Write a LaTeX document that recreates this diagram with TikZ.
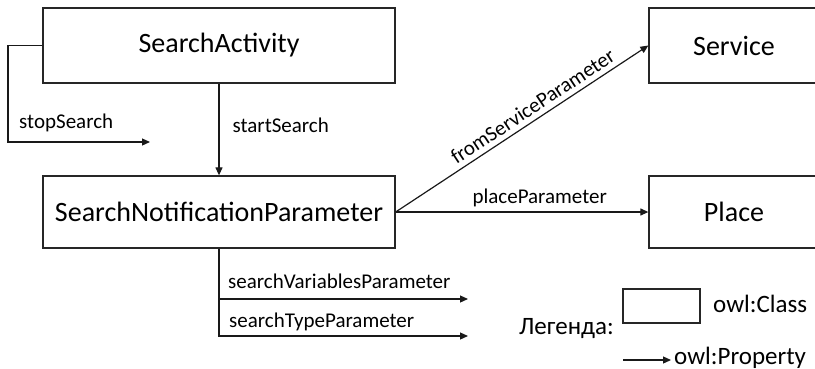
\documentclass[tikz,border=0pt]{standalone}
\usepackage{fontspec}
\setmainfont{Carlito}
\usetikzlibrary{arrows.meta}
\begin{document}
\begin{tikzpicture}[x=1pt,y=-1pt,
  cls/.style={draw=black!85, line width=1.3pt, rectangle, inner sep=0pt, font=\fontsize{28}{30}\selectfont},
  prop/.style={draw=black!90, line width=1.2pt, -{Triangle[length=8pt,width=7pt]}},
  lbl/.style={inner sep=0pt, font=\fontsize{21}{23}\selectfont},
  leglbl/.style={inner sep=0pt, font=\fontsize{25}{27}\selectfont},
  ]
  \useasboundingbox (0,0) rectangle (815,368);

  % classes
  \node[cls, minimum width=352pt, minimum height=75pt] (sa)  at (219,45.5) {SearchActivity};
  \node[cls, minimum width=352pt, minimum height=72pt] (snp) at (219,212) {SearchNotificationParameter};
  \node[cls, minimum width=170pt, minimum height=75pt] (svc) at (734,45.5) {Service};
  \node[cls, minimum width=170pt, minimum height=72pt] (plc) at (734,212) {Place};

  % properties
  \draw[prop] (sa) -- node[lbl, pos=0.45, right=13pt] {startSearch} (snp);

  \coordinate (stopcorner) at (8,142);
  \coordinate (stopend) at (150,142);
  \draw[prop] (sa.west) -| (stopcorner) -- node[lbl, pos=0.41, above=10pt] {stopSearch} (stopend);

  \draw[prop] (snp.east) -- node[lbl, pos=0.57, sloped, above=5pt] {fromServiceParameter} (svc.west);
  \draw[prop] (snp.east) -- node[lbl, pos=0.57, above=5pt] {placeParameter} (plc.west);

  \coordinate (varend) at (468,299);
  \coordinate (typeend) at (468,336);
  \draw[prop] (snp.south) |- (varend);
  \draw[prop] (snp.south) |- (typeend);
  \node[lbl, anchor=base west] (lvar) at (228,288) {searchVariablesParameter};
  \node[lbl, anchor=base west] (ltype) at (229,327) {searchTypeParameter};

  % legend
  \node[leglbl, anchor=base west] (leg) at (519,334) {Легенда:};
  \node[draw=black!85, line width=1.3pt, minimum width=77pt, minimum height=34pt, inner sep=0pt] (legbox) at (661.5,306) {};
  \node[leglbl, anchor=base west] (lcls) at (713,312) {owl:Class};
  \coordinate (la) at (623,360);
  \coordinate (lb) at (671,360);
  \draw[prop] (la) -- (lb);
  \node[leglbl, anchor=base west] (lprop) at (674,364) {owl:Property};
\end{tikzpicture}
\end{document}
